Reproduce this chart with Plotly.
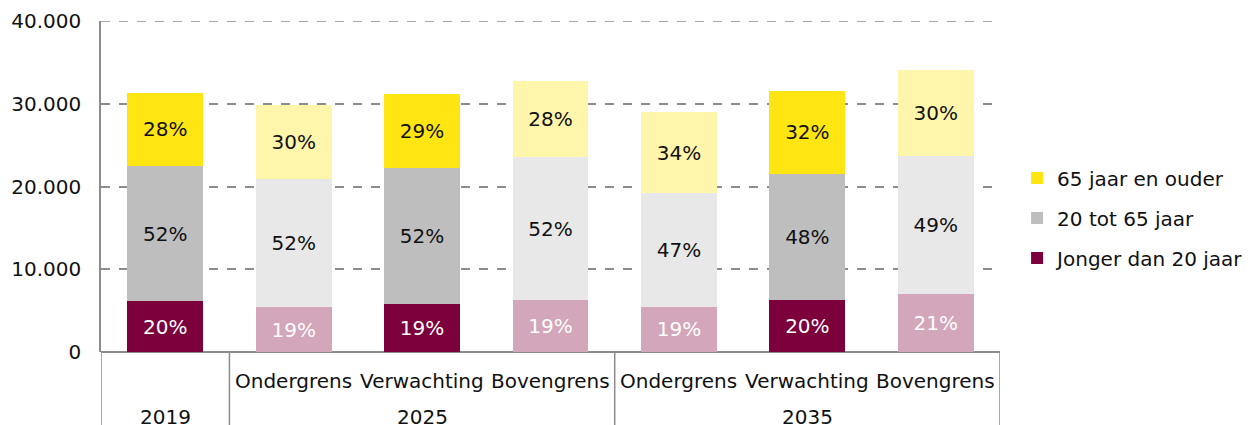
import plotly.graph_objects as go

# ---- data ----
sub_labels = ["", "Ondergrens", "Verwachting", "Bovengrens", "Ondergrens", "Verwachting", "Bovengrens"]
year_labels = ["2019", "2025", "2035"]
year_spans = [(0, 0), (1, 3), (4, 6)]  # index ranges of categories per year

young = [6160, 5420, 5850, 6250, 5440, 6250, 6980]
middle = [16320, 15480, 16330, 17300, 13760, 15250, 16690]
old = [8820, 8950, 8950, 9250, 9800, 10100, 10430]

young_pct = ["20%", "19%", "19%", "19%", "19%", "20%", "21%"]
middle_pct = ["52%", "52%", "52%", "52%", "47%", "48%", "49%"]
old_pct = ["28%", "30%", "29%", "28%", "34%", "32%", "30%"]

is_expected = [True, False, True, False, False, True, False]

series_names = ["Jonger dan 20 jaar", "20 tot 65 jaar", "65 jaar en ouder"]
y_ticks = [0, 10000, 20000, 30000, 40000]

# ---- styles ----
FONT = "DejaVu Sans"
FS = 20
TXT = "#111111"
GRID = "#8c8c8c"
dark = {"young": "#7B003C", "middle": "#BEBEBE", "old": "#FFE512"}
light = {"young": "#D3A6BA", "middle": "#E8E8E8", "old": "#FFF5AB"}

x = list(range(len(sub_labels)))

def colors(key):
    return [dark[key] if e else light[key] for e in is_expected]

fig = go.Figure()
for name, vals, pct, key, tcol, rank in [
    (series_names[0], young, young_pct, "young", "white", 3),
    (series_names[1], middle, middle_pct, "middle", TXT, 2),
    (series_names[2], old, old_pct, "old", TXT, 1),
]:
    fig.add_trace(go.Bar(
        x=x, y=vals, name=name, text=pct,
        textposition="inside", insidetextanchor="middle", textangle=0,
        textfont=dict(family=FONT, size=FS, color=tcol),
        marker=dict(color=colors(key), line=dict(width=0)),
        width=0.59, legendgroup=key, legendrank=rank, hoverinfo="skip",
    ))

shapes = []
# vertical dividers below axis
bounds = [-0.5] + [e + 0.5 for (_, e) in year_spans]
for b in bounds:
    shapes.append(dict(type="line", xref="x", yref="paper", x0=b, x1=b, y0=0, y1=-0.3,
                       line=dict(color=GRID, width=1.5)))
# top gridline (at the edge of the range plotly would skip it)
shapes.append(dict(type="line", xref="paper", yref="y", x0=0, x1=1, y0=y_ticks[-1], y1=y_ticks[-1],
                   line=dict(color=GRID, width=1.5, dash="dash"), layer="below"))

annotations = []
for i, lab in enumerate(sub_labels):
    if lab:
        annotations.append(dict(x=i, y=-0.0876, xref="x", yref="paper", text=lab, showarrow=False,
                                yanchor="middle", font=dict(family=FONT, size=FS, color=TXT)))
for yl, (s, e) in zip(year_labels, year_spans):
    annotations.append(dict(x=(s + e) / 2, y=-0.196, xref="x", yref="paper", text=yl, showarrow=False,
                            yanchor="middle", font=dict(family=FONT, size=FS, color=TXT)))

# the page has an 8px body margin; size the figure to fill the rest of the window
fig.update_layout(
    width=1249, height=417,
    margin=dict(l=93, r=257, t=13, b=73, autoexpand=False),
    barmode="stack",
    separators=",.",
    plot_bgcolor="white", paper_bgcolor="white",
    font=dict(family=FONT, size=FS, color=TXT),
    showlegend=True,
    legend=dict(x=1.019, y=0.405, xanchor="left", yanchor="middle",
                traceorder="grouped", tracegroupgap=11,
                font=dict(family=FONT, size=FS, color=TXT),
                itemwidth=30),
    xaxis=dict(range=[-0.5, 6.5], showticklabels=False, showgrid=False, zeroline=False,
               showline=False, ticks="", automargin=False),
    yaxis=dict(range=[0, 40000], tickvals=y_ticks, tickformat=",d",
               showgrid=True, gridcolor=GRID, griddash="dash", gridwidth=1.5,
               zeroline=True, zerolinecolor=GRID, zerolinewidth=2,
               showline=True, linecolor=GRID, linewidth=1.5,
               ticks="", ticklabelstandoff=14, automargin=False,
               tickfont=dict(family=FONT, size=FS, color=TXT)),
    shapes=shapes,
    annotations=annotations,
)

fig.write_html("out.html")
